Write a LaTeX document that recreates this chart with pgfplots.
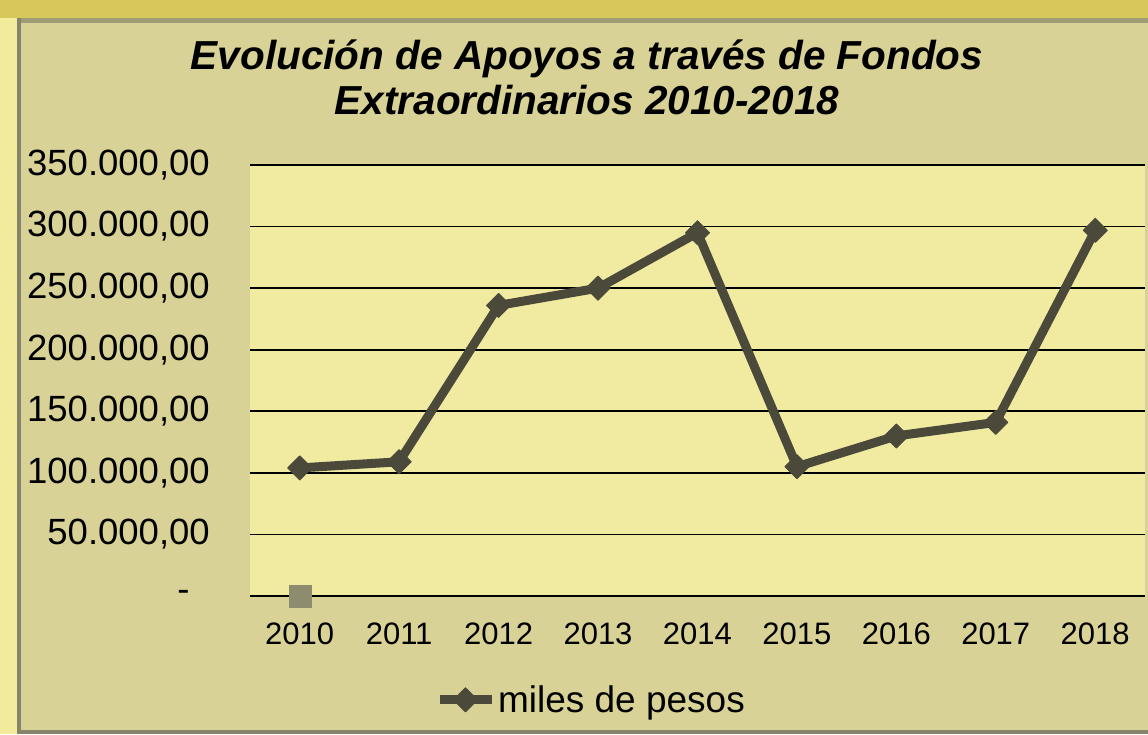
\documentclass[border=0pt]{standalone}
\usepackage{fontspec}
\setmainfont{Liberation Sans}
\usepackage{pgfplots}
\pgfplotsset{compat=1.18}
\definecolor{outerbg}{HTML}{D8D296}
\definecolor{plotbg}{HTML}{F1EBA2}
\definecolor{topstrip}{HTML}{D8C85C}
\definecolor{leftstrip}{HTML}{F2EB9C}
\definecolor{linecol}{HTML}{4B4A3A}
\definecolor{sqcol}{HTML}{8E8C6E}
\definecolor{bordercol}{HTML}{86846A}
\begin{document}
\begin{tikzpicture}
\fill[outerbg] (0pt,0pt) rectangle (1148pt,734pt);
\fill[topstrip] (0pt,716pt) rectangle (1148pt,734pt);
\fill[leftstrip] (0pt,0pt) rectangle (17pt,716pt);
\fill[bordercol] (17pt,0pt) rectangle (21pt,716pt);
\fill[bordercol!70!outerbg] (21pt,711pt) rectangle (1148pt,716pt);
\fill[bordercol] (17pt,0pt) rectangle (1148pt,4pt);
\begin{axis}[
  at={(250pt,138pt)}, anchor=south west,
  scale only axis, width=895pt, height=431pt,
  xmin=2009.5, xmax=2018.5, ymin=0, ymax=350000,
  clip=false,
  scaled y ticks=false,
  axis background/.style={fill=plotbg},
  axis line style={draw=none},
  major tick length=0pt,
  xtick={2010,...,2018},
  xticklabels={2010,2011,2012,2013,2014,2015,2016,2017,2018},
  ytick={0,50000,100000,150000,200000,250000,300000,350000},
  yticklabels={{-\hphantom{0}},{50.000,00},{100.000,00},{150.000,00},{200.000,00},{250.000,00},{300.000,00},{350.000,00}},
  ymajorgrids,
  grid style={black, line width=1.6pt},
  yticklabel style={font=\fontsize{36.5}{42}\selectfont, anchor=east, inner sep=0pt, xshift=-40pt},
  xticklabel style={font=\fontsize{31}{36}\selectfont, anchor=north, inner sep=0pt, yshift=-27pt},
  legend style={at={(0.381,-0.241)}, anchor=center, draw=none, fill=none,
    font=\fontsize{37}{42}\selectfont, nodes={inner sep=2pt}},
  legend image code/.code={\draw[mark repeat=2,mark phase=2] plot coordinates {(0pt,0pt) (26pt,0pt) (52pt,0pt)};},
]
\addplot[linecol, line width=9pt, line join=round, mark=square*, mark size=8.5pt,
  mark options={rotate=45, line width=1pt, fill=linecol, draw=linecol}]
  coordinates {(2010,104000) (2011,109000) (2012,236000) (2013,250000) (2014,295000)
               (2015,105000) (2016,130000) (2017,141000) (2018,297000)};
\addlegendentry{miles de pesos}
\addplot[forget plot, only marks, mark=square*, mark size=11pt,
  mark options={fill=sqcol, draw=sqcol}] coordinates {(2010,0)};
\end{axis}
\node[font=\fontsize{40.5}{45}\selectfont\bfseries\itshape, align=center] at (587pt,657pt)
  {Evolución de Apoyos a través de Fondos\\Extraordinarios 2010-2018};
\end{tikzpicture}
\end{document}
